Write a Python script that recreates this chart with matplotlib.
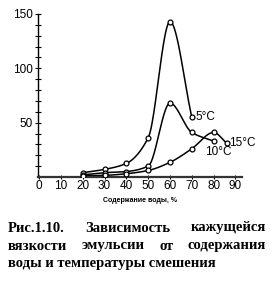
import numpy as np
import matplotlib
matplotlib.use('Agg')
import matplotlib.pyplot as plt

# water content, % and apparent viscosity for each temperature
x5 = [20, 30, 40, 50, 60, 70]
y5 = [4, 7, 12.5, 36, 143, 55]
x10 = [20, 30, 40, 50, 60, 70, 80]
y10 = [2, 4, 5, 10, 68, 41, 33]
x15 = [20, 30, 40, 50, 60, 70, 80, 86]
y15 = [1, 1.5, 3, 6, 13.5, 26, 41, 31]

labels = ['5°C', '10°C', '15°C']
xticks = list(range(0, 100, 10))
yticks = [50, 100, 150]

caption = [['Рис.1.10.', 'Зависимость', 'кажущейся'],
           ['вязкости', 'эмульсии', 'от', 'содержания']]
caption_last = 'воды и температуры смешения'


def smooth(xs, ys, n=40):
    # monotone cubic (pchip) through the points
    xs = np.asarray(xs, float)
    ys = np.asarray(ys, float)
    h = np.diff(xs)
    d = np.diff(ys) / h
    m = np.zeros_like(ys)
    m[0], m[-1] = d[0], d[-1]
    for i in range(1, len(xs) - 1):
        if d[i - 1] * d[i] > 0:
            w1 = 2 * h[i] + h[i - 1]
            w2 = h[i] + 2 * h[i - 1]
            m[i] = (w1 + w2) / (w1 / d[i - 1] + w2 / d[i])
    px, py = [], []
    for i in range(len(xs) - 1):
        t = np.linspace(0, 1, n)
        h00 = 2 * t**3 - 3 * t**2 + 1
        h10 = t**3 - 2 * t**2 + t
        h01 = -2 * t**3 + 3 * t**2
        h11 = t**3 - t**2
        px.extend(xs[i] + t * h[i])
        py.extend(h00 * ys[i] + h10 * h[i] * m[i] + h01 * ys[i + 1] + h11 * h[i] * m[i + 1])
    return px, py


fig = plt.figure(figsize=(2.73, 2.83), dpi=100)
ax = fig.add_axes([38 / 273, 1 - 177 / 283, 204 / 273, 163 / 283])

for xs, ys in [(x5, y5), (x10, y10), (x15, y15)]:
    sx, sy = smooth(xs, ys)
    ax.plot(sx, sy, color='black', lw=1.1, zorder=2)
    ax.plot(xs, ys, 'o', ms=3.5, mfc='white', mec='black', mew=0.9, zorder=3)

lab_kw = dict(fontsize=8.5, family='Liberation Sans', va='center')
ax.text(x5[-1] + 1.5, y5[-1], labels[0], **lab_kw)
ax.text(x10[-1] - 4, y10[-1] - 10, labels[1], **lab_kw)
ax.text(x15[-1] + 1.0, y15[-1], labels[2], **lab_kw)

ax.set_xlim(-0.5, 93)
ax.set_ylim(0, 150)
ax.set_xticks(xticks)
ax.set_xticklabels([str(v) for v in xticks], fontsize=8.5, family='Liberation Sans')
ax.set_yticks(range(10, 151, 10))
ax.set_yticklabels([str(v) if v in yticks else '' for v in range(10, 151, 10)],
                   fontsize=8.5, family='Liberation Sans')
ax.tick_params(axis='y', direction='inout', length=4, width=0.8, pad=2)
ax.tick_params(axis='x', direction='inout', length=3, width=0.8, pad=1)
for s in ['top', 'right']:
    ax.spines[s].set_visible(False)
ax.spines['left'].set_linewidth(1.0)
ax.spines['bottom'].set_linewidth(1.6)
ax.spines['bottom'].set_color('#333333')
ax.set_xlabel('Содержание воды, %', fontsize=5, fontweight='bold',
              family='Liberation Sans', labelpad=3)

# justified caption under the chart
fig.canvas.draw()
renderer = fig.canvas.get_renderer()
left, right = 8 / 273, 266 / 273
line_y = [1 - 228 / 283, 1 - 246 / 283]
cap_kw = dict(fontsize=10.5, fontweight='bold', family='Liberation Serif', va='center')
for words, yy in zip(caption, line_y):
    texts = [fig.text(0, yy, w, **cap_kw) for w in words]
    widths = [t.get_window_extent(renderer).width / fig.bbox.width for t in texts]
    gap = (right - left - sum(widths)) / (len(words) - 1)
    pos = left
    for t, w in zip(texts, widths):
        t.set_x(pos)
        pos += w + gap
fig.text(left, 1 - 264 / 283, caption_last, **cap_kw)

fig.savefig('out.png', dpi=100)
